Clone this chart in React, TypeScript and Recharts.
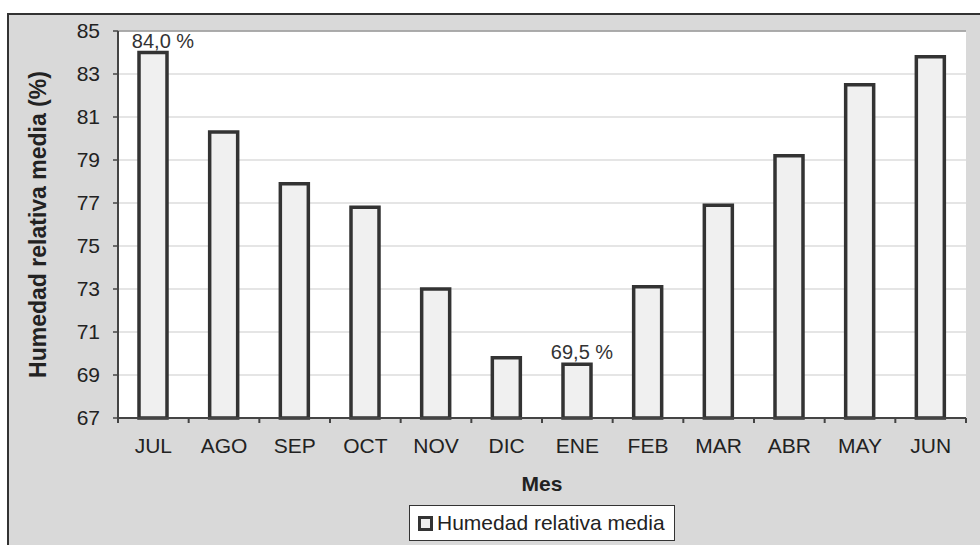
import React from "react";
import {
  BarChart,
  Bar,
  XAxis,
  YAxis,
  CartesianGrid,
  ReferenceLine,
  LabelList,
} from "recharts";

const months = ["JUL", "AGO", "SEP", "OCT", "NOV", "DIC", "ENE", "FEB", "MAR", "ABR", "MAY", "JUN"];
const humidity = [84.0, 80.3, 77.9, 76.8, 73.0, 69.8, 69.5, 73.1, 76.9, 79.2, 82.5, 83.8];
const yTicks = [67, 69, 71, 73, 75, 77, 79, 81, 83, 85];
const seriesName = "Humedad relativa media";
const yAxisTitle = "Humedad relativa media (%)";
const xAxisTitle = "Mes";

const data = months.map((m, i) => ({ mes: m, valor: humidity[i] }));
const maxV = Math.max(...humidity);
const minV = Math.min(...humidity);

const W = 980;
const H = 545;
const M = { top: 31, right: 14, left: 58, bottom: 97 };
const YW = 60;
const XH = 30;
const PLOT_L = M.left + YW;
const PLOT_R = W - M.right;
const PLOT_B = H - M.bottom - XH;
const BAND = (PLOT_R - PLOT_L) / months.length;
const FONT = "'Liberation Sans', Arial, sans-serif";
const TICK_SIZE = 5;
const TICK_MARGIN = 15;

const XTick = (props: any) => {
  const { x, y, payload, index } = props;
  const axisY = y - TICK_SIZE - TICK_MARGIN;
  return (
    <g>
      <line x1={x - BAND / 2} x2={x - BAND / 2} y1={axisY} y2={axisY + TICK_SIZE} stroke="#444" strokeWidth={2} />
      {index === months.length - 1 && (
        <line x1={x + BAND / 2} x2={x + BAND / 2} y1={axisY} y2={axisY + TICK_SIZE} stroke="#444" strokeWidth={2} />
      )}
      <text x={x} y={y} dy="0.71em" textAnchor="middle" fontSize={21} fontFamily={FONT} fill="#222">
        {payload.value}
      </text>
    </g>
  );
};

const ValueLabel = (props: any) => {
  const { x, y, width, value } = props;
  if (value !== maxV && value !== minV) return null;
  const txt = value.toFixed(1).replace(".", ",") + " %";
  return (
    <text
      x={x + width / 2 + (value === maxV ? 10 : 5)}
      y={y - 5}
      textAnchor="middle"
      fontSize={20}
      fontFamily={FONT}
      fill="#333"
    >
      {txt}
    </text>
  );
};

export default function App() {
  return (
    <div style={{ position: "absolute", left: 0, top: 0, width: W, height: H, overflow: "hidden", background: "#fff" }}>
      <div
        style={{
          position: "absolute",
          left: 7,
          top: 13,
          width: W + 20,
          height: H + 20,
          background: "#d9d9d9",
          border: "2px solid #333",
        }}
      />
      <div style={{ position: "absolute", left: 0, top: 0 }}>
        <BarChart width={W} height={H} data={data} margin={M} barCategoryGap={0}>
          <CartesianGrid fill="#fff" vertical={false} stroke="#dcdcdc" strokeWidth={1.5} />
          <XAxis
            dataKey="mes"
            height={XH}
            tickLine={false}
            tickSize={TICK_SIZE}
            tickMargin={TICK_MARGIN}
            axisLine={{ stroke: "#444", strokeWidth: 2 }}
            tick={<XTick />}
            interval={0}
          />
          <YAxis
            width={YW}
            domain={[67, 85]}
            ticks={yTicks}
            interval={0}
            tickSize={TICK_SIZE}
            tickMargin={13}
            axisLine={{ stroke: "#444", strokeWidth: 2 }}
            tickLine={{ stroke: "#444", strokeWidth: 1.5 }}
            tick={{ fontSize: 21, fontFamily: FONT, fill: "#222" }}
            label={(p: any) => (
              <text
                x={38}
                y={(M.top + PLOT_B) / 2}
                transform={`rotate(-90, 38, ${(M.top + PLOT_B) / 2})`}
                textAnchor="middle"
                dominantBaseline="central"
                fontSize={23}
                fontWeight="bold"
                fontFamily={FONT}
                fill="#222"
              >
                {yAxisTitle}
              </text>
            )}
          />
          <YAxis
            yAxisId="right"
            orientation="right"
            width={0}
            domain={[67, 85]}
            tick={false}
            tickLine={false}
            axisLine={{ stroke: "#555", strokeWidth: 2 }}
          />
          <ReferenceLine y={85} stroke="#999" strokeWidth={1.5} />
          <Bar
            dataKey="valor"
            name={seriesName}
            fill="#f0f0f0"
            stroke="#333"
            strokeWidth={3.5}
            barSize={28}
            isAnimationActive={false}
          >
            <LabelList dataKey="valor" content={<ValueLabel />} />
          </Bar>
        </BarChart>
      </div>
      <div
        style={{
          position: "absolute",
          left: 0,
          width: (PLOT_L + PLOT_R),
          top: 472,
          textAlign: "center",
          fontFamily: FONT,
          fontWeight: "bold",
          fontSize: 21,
          color: "#222",
        }}
      >
        {xAxisTitle}
      </div>
      <div
        style={{
          position: "absolute",
          left: 409,
          top: 505,
          width: 264,
          height: 34,
          background: "#fff",
          border: "1.5px solid #333",
          display: "flex",
          alignItems: "center",
          fontFamily: FONT,
          fontSize: 21,
          color: "#222",
          boxSizing: "content-box",
        }}
      >
        <span
          style={{
            display: "inline-block",
            width: 9,
            height: 9,
            marginLeft: 8,
            marginRight: 4,
            background: "#eee",
            border: "3px solid #333",
          }}
        />
        <span>{seriesName}</span>
      </div>
    </div>
  );
}
